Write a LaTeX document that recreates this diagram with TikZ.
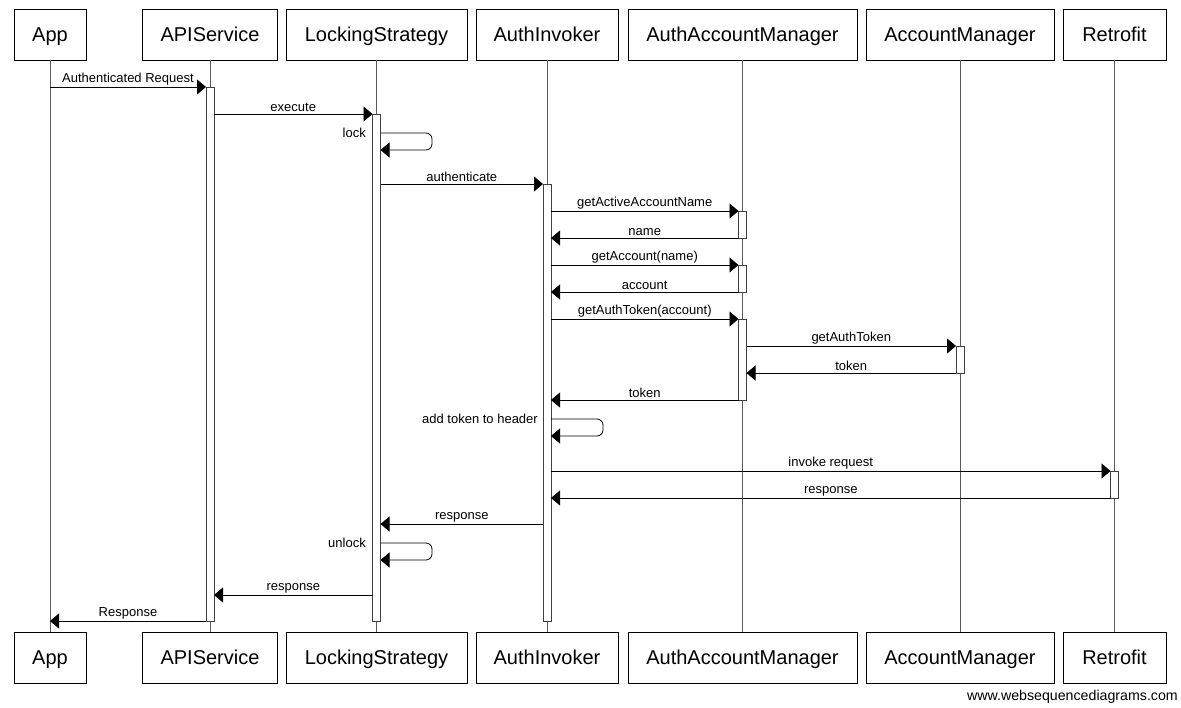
\documentclass[tikz,border=0pt]{standalone}
\usepackage{fontspec}
\setmainfont{Liberation Sans}
\usetikzlibrary{arrows.meta}
\begin{document}
\begin{tikzpicture}[x=1pt,y=-1pt,
  actor/.style={draw=black, line width=0.8pt, fill=white, minimum height=51pt, inner sep=0pt, text height=14.3pt, text depth=0pt, font=\fontsize{20}{24}\selectfont},
  life/.style={draw=black!65, line width=0.8pt},
  bar/.style={draw=black!75, fill=white, line width=0.8pt, minimum width=8pt, inner sep=0pt},
  msg/.style={draw=black, line width=0.8pt, -{Triangle[length=9pt,width=15pt]}},
  selfmsg/.style={draw=black, line width=0.8pt, rounded corners=6pt, -{Triangle[length=9pt,width=15pt]}},
  lbl/.style={font=\fontsize{13}{15}\selectfont, inner sep=0.5pt, anchor=south},
  slbl/.style={font=\fontsize{13}{15}\selectfont, inner sep=0pt, anchor=base east},
]
\useasboundingbox (0,0) rectangle (1181,707);
\fill[white] (0,0) rectangle (1181,707);

% actors top
\node[actor, minimum width=72pt]  (appT) at (50,34.5) {App};
\node[actor, minimum width=135pt] (apiT) at (210,34.5) {APIService};
\node[actor, minimum width=181pt] (lockT) at (376.5,34.5) {LockingStrategy};
\node[actor, minimum width=142pt] (authT) at (547,34.5) {AuthInvoker};
\node[actor, minimum width=229pt] (aamT) at (742.5,34.5) {AuthAccountManager};
\node[actor, minimum width=188pt] (amT) at (960,34.5) {AccountManager};
\node[actor, minimum width=103pt] (retT) at (1114.5,34.5) {Retrofit};
% actors bottom
\node[actor, minimum width=72pt]  (appB) at (50,657.5) {App};
\node[actor, minimum width=135pt] (apiB) at (210,657.5) {APIService};
\node[actor, minimum width=181pt] (lockB) at (376.5,657.5) {LockingStrategy};
\node[actor, minimum width=142pt] (authB) at (547,657.5) {AuthInvoker};
\node[actor, minimum width=229pt] (aamB) at (742.5,657.5) {AuthAccountManager};
\node[actor, minimum width=188pt] (amB) at (960,657.5) {AccountManager};
\node[actor, minimum width=103pt] (retB) at (1114.5,657.5) {Retrofit};

% lifelines
\draw[life] (appT.south) -- (appB.north);
\draw[life] (apiT.south) -- (apiB.north);
\draw[life] (lockT.south) -- (lockB.north);
\draw[life] (authT.south) -- (authB.north);
\draw[life] (aamT.south) -- (aamB.north);
\draw[life] (amT.south) -- (amB.north);
\draw[life] (retT.south) -- (retB.north);

% activation bars
\node[bar, minimum height=534pt] (bApi) at (210,354) {};
\node[bar, minimum height=507pt] (bLock) at (376.5,367.5) {};
\node[bar, minimum height=437pt] (bAuth) at (547,402.5) {};
\node[bar, minimum height=27pt] (bAam1) at (742.5,224.5) {};
\node[bar, minimum height=27pt] (bAam2) at (742.5,278.5) {};
\node[bar, minimum height=81pt] (bAam3) at (742.5,359.5) {};
\node[bar, minimum height=27pt] (bAm) at (960,359.5) {};
\node[bar, minimum height=27pt] (bRet) at (1114.5,484.5) {};

% message coordinates
\coordinate (m1s) at (50,87);      \coordinate (m1e) at (206,87);
\coordinate (m2s) at (214,114);    \coordinate (m2e) at (372.5,114);
\coordinate (m4s) at (380.5,184);  \coordinate (m4e) at (543,184);
\coordinate (m5s) at (551,211);    \coordinate (m5e) at (738.5,211);
\coordinate (m6s) at (738.5,238);  \coordinate (m6e) at (551,238);
\coordinate (m7s) at (551,265);    \coordinate (m7e) at (738.5,265);
\coordinate (m8s) at (738.5,292);  \coordinate (m8e) at (551,292);
\coordinate (m9s) at (551,319);    \coordinate (m9e) at (738.5,319);
\coordinate (m10s) at (746.5,346); \coordinate (m10e) at (956,346);
\coordinate (m11s) at (956,373);   \coordinate (m11e) at (746.5,373);
\coordinate (m12s) at (738.5,400); \coordinate (m12e) at (551,400);
\coordinate (m14s) at (551,471);   \coordinate (m14e) at (1110.5,471);
\coordinate (m15s) at (1110.5,498);\coordinate (m15e) at (551,498);
\coordinate (m16s) at (543,524);   \coordinate (m16e) at (380.5,524);
\coordinate (m18s) at (372.5,595); \coordinate (m18e) at (214,595);
\coordinate (m19s) at (206,621);   \coordinate (m19e) at (50,621);

\draw[msg] (m1s) -- node[lbl,yshift=1pt]{Authenticated Request} (m1e);
\draw[msg] (m2s) -- node[lbl,yshift=1pt]{execute} (m2e);
\draw[selfmsg] (380.5,133) -- (432,133) -- (432,150) -- (380.5,150);
\node[slbl] (lLock) at (366,137) {lock};
\draw[msg] (m4s) -- node[lbl,yshift=1pt]{authenticate} (m4e);
\draw[msg] (m5s) -- node[lbl,yshift=1pt]{getActiveAccountName} (m5e);
\draw[msg] (m6s) -- node[lbl,yshift=1pt]{name} (m6e);
\draw[msg] (m7s) -- node[lbl,yshift=1pt]{getAccount(name)} (m7e);
\draw[msg] (m8s) -- node[lbl,yshift=1pt]{account} (m8e);
\draw[msg] (m9s) -- node[lbl,yshift=1pt]{getAuthToken(account)} (m9e);
\draw[msg] (m10s) -- node[lbl,yshift=1pt]{getAuthToken} (m10e);
\draw[msg] (m11s) -- node[lbl,yshift=1pt]{token} (m11e);
\draw[msg] (m12s) -- node[lbl,yshift=1pt]{token} (m12e);
\draw[selfmsg] (551,419) -- (603,419) -- (603,436) -- (551,436);
\node[slbl] (lAdd) at (538,423) {add token to header};
\draw[msg] (m14s) -- node[lbl,yshift=1pt]{invoke request} (m14e);
\draw[msg] (m15s) -- node[lbl,yshift=1pt]{response} (m15e);
\draw[msg] (m16s) -- node[lbl,yshift=1pt]{response} (m16e);
\draw[selfmsg] (380.5,543) -- (432,543) -- (432,560) -- (380.5,560);
\node[slbl] (lUnlock) at (366,547) {unlock};
\draw[msg] (m18s) -- node[lbl,yshift=1pt]{response} (m18e);
\draw[msg] (m19s) -- node[lbl,yshift=1pt]{Response} (m19e);

\node[font=\fontsize{14.2}{16}\selectfont, inner sep=0pt, anchor=base east] (wsd) at (1178,700) {www.websequencediagrams.com};
\end{tikzpicture}
\end{document}
